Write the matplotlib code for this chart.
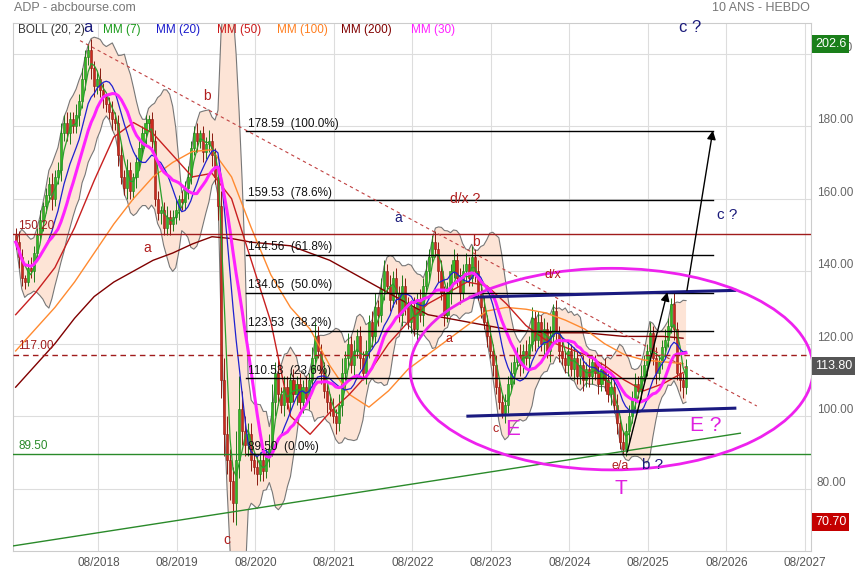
import matplotlib
matplotlib.use("Agg")
import matplotlib.pyplot as plt
import numpy as np
import pandas as pd
from matplotlib.patches import Ellipse
from matplotlib.transforms import blended_transform_factory

plt.rcParams['font.family'] = ['Liberation Sans', 'DejaVu Sans']

# ---------------- data : ADP weekly, one candle every 2 weeks ----------------
first_date = 2017.53          # decimal year of first candle
first_open = 150.0

close_2017 = [148, 144, 138, 137, 141, 140, 145, 150, 154, 158, 161, 164, 160, 166, 168, 178, 181, 178, 182, 180, 183, 187, 193, 199, 201, 196]
close_2018 = [191, 193, 190, 188, 186, 184, 182, 181, 172, 166, 163, 168, 162, 166, 170, 174, 178, 181, 182, 176, 160, 156, 157, 152, 155, 153]
close_2019 = [155, 157, 160, 159, 163, 166, 174, 178, 176, 178, 173, 175, 176, 172, 166, 158, 110, 95, 88, 82, 76, 88, 102, 96, 92, 95]
close_2020 = [88, 86, 84, 88, 85, 89, 91, 104, 112, 106, 103, 108, 104, 110, 106, 109, 104, 108, 105, 110, 116, 122, 118, 112, 107, 104]
close_2021 = [102, 100, 98, 103, 112, 116, 120, 114, 118, 122, 116, 112, 118, 126, 122, 130, 128, 135, 140, 136, 132, 138, 134, 128, 136, 130]
close_2022 = [126, 130, 124, 132, 128, 136, 140, 144, 148, 146, 140, 134, 128, 134, 140, 143, 138, 134, 140, 142, 138, 144, 140, 134, 130, 126]
close_2023 = [122, 118, 114, 108, 104, 101, 103, 109, 112, 115, 117, 114, 118, 116, 120, 127, 121, 126, 120, 124, 118, 122, 129, 123, 118, 116]
close_2024 = [114, 118, 113, 116, 111, 114, 110, 113, 111, 115, 112, 109, 113, 110, 106, 108, 103, 98, 93, 91, 96, 100, 105, 109, 107, 111]
close_2025 = [114, 118, 123, 116, 112, 115, 119, 121, 125, 131, 124, 112, 110, 108, 113.8]

wick_up = [2, 3, 2, 1, 2, 3, 2, 2, 3, 1, 2, 2, 3, 2, 2, 3, 2, 3, 2, 2, 3, 2, 3, 2, 1.6, 3,
           2, 2, 3, 2, 1, 2, 3, 2, 2, 3, 2, 3, 2, 1, 2, 3, 2, 2, 1, 2, 3, 2, 1, 2, 3, 2,
           2, 3, 1, 2, 2, 3, 2, 2, 3, 1, 2, 2, 3, 2, 2, 3, 4, 6, 5, 3, 4, 8, 9, 5, 4, 3,
           3, 2, 3, 2, 3, 2, 4, 5, 3, 4, 2, 3, 3, 2, 3, 2, 3, 2, 3, 2, 3, 4, 3, 2, 3, 2,
           2, 3, 2, 3, 4, 2, 3, 2, 3, 2, 3, 2, 3, 2, 3, 4, 2, 3, 3, 2, 3, 2, 3, 2, 3, 2,
           3, 2, 3, 2, 3, 2, 3, 2, 2, 3, 2, 3, 2, 3, 2, 3, 2, 3, 2, 3, 2, 3, 2, 3, 2, 3,
           2, 3, 2, 3, 2, 2, 3, 2, 3, 2, 2, 3, 2, 3, 2, 3, 2, 3, 2, 3, 2, 3, 2, 3, 2, 3,
           2, 3, 2, 3, 2, 2, 3, 2, 3, 2, 2, 3, 2, 3, 2, 3, 2, 3, 2, 3, 2, 3, 2, 3, 2, 3,
           3, 2, 3, 2, 3, 2, 2, 3, 2, 1.6, 3, 2, 3, 2, 2]
wick_dn = [2, 3, 2, 2, 1, 2, 3, 2, 2, 3, 2, 2, 3, 2, 2, 3, 2, 2, 3, 2, 2, 3, 2, 3, 2, 3,
           3, 2, 2, 3, 2, 2, 3, 2, 3, 2, 2, 3, 2, 2, 3, 2, 2, 3, 2, 3, 2, 2, 3, 2, 2, 3,
           2, 2, 3, 2, 2, 3, 2, 2, 3, 2, 3, 2, 2, 3, 2, 4, 5, 6, 4, 5, 5.3, 6, 5, 4, 3, 3,
           3, 2, 3, 2, 3, 2, 3, 2, 4, 3, 2, 3, 2, 3, 2, 3, 2, 3, 2, 3, 2, 3, 2, 3, 2, 3,
           2, 2, 3, 2, 3, 2, 3, 2, 3, 2, 3, 2, 3, 2, 3, 2, 3, 2, 3, 2, 3, 2, 3, 2, 3, 2,
           2, 3, 2, 3, 2, 3, 2, 3, 2, 2, 3, 2, 3, 2, 3, 2, 2, 3, 2, 3, 2, 2, 3, 2, 3, 2,
           3, 2, 3, 2, 2, 1.5, 3, 2, 2, 3, 2, 3, 2, 2, 3, 2, 3, 2, 2, 3, 2, 3, 2, 2, 3, 2,
           2, 3, 2, 3, 2, 2, 3, 2, 3, 2, 2, 3, 2, 3, 2, 3, 2, 3, 2, 1.5, 2, 3, 2, 3, 2, 3,
           2, 3, 2, 2, 3, 2, 2, 3, 2, 2, 3, 2, 3, 3, 2]

# long moving averages, one point per quarter
ma_start = 2017.53
mm50 = [128, 134, 141, 152, 165, 177, 181, 178, 172, 166, 167, 160, 143, 126, 100, 95, 101, 106,
        112, 120, 126, 131, 134, 137, 136, 131, 125, 121, 119, 117, 114, 110, 107, 109, 112]
mm100 = [118, 124, 130, 137, 145, 153, 160, 166, 170, 173, 173.5, 166, 152, 139, 130, 124, 114, 106,
         102.5, 107, 113, 117, 121, 125, 129, 130, 129.5, 128.5, 126.5, 124, 120, 117, 115.5, 115, 114.5]
mm200 = [108, 114, 120, 127, 133, 137, 140, 143, 145, 147.5, 149.5, 149, 148, 147.5, 147, 145, 143, 140,
         137, 134, 131, 128, 127, 126, 125, 124, 123.5, 123, 123, 123, 122.5, 122, 122, 122, 121.5]

# fibonacci retracement levels
fib_levels = [178.59, 159.53, 144.56, 134.05, 123.53, 110.53, 89.50]
fib_pct = ['100.0%', '78.6%', '61.8%', '50.0%', '38.2%', '23.6%', '0.0%']
fib_span = (2020.466, 2026.415)

# support / resistance
level_150 = 150.20
level_117 = 117.00
level_89 = 89.50
last_price = 113.80
max_price = 202.6
min_price = 70.70

# drawn lines (start date, value) -> (end date, value)
red_trend = [(2018.35, 203.6), (2026.97, 102.8)]
green_trend = [(2017.496, 64.2), (2026.76, 95.3)]
navy_top = [(2023.32, 132.8), (2026.69, 134.7)]
navy_bot = [(2023.29, 100.0), (2026.69, 102.2)]
arrow_1 = [(2025.32, 90.1), (2025.83, 134.2)]
arrow_2 = [(2026.08, 134.7), (2026.41, 178.8)]
ellipse_c = (2025.121, 112.98)
ellipse_wh = (5.134, 55.6)

# wave labels: text, date, value, color, size
wave_labels = [
    ('a', 2018.45, 207.3, '#1a1a7a', 12),
    ('b', 2019.97, 188.2, '#b01e1e', 10),
    ('a', 2019.20, 146.3, '#b01e1e', 10),
    ('c', 2020.22, 65.9, '#b01e1e', 10),
    ('a', 2022.40, 154.8, '#1a1a7a', 10),
    ('d/x ?', 2023.25, 159.8, '#b01e1e', 10),
    ('b', 2023.39, 148.0, '#b01e1e', 10),
    ('d/x', 2024.37, 138.9, '#b01e1e', 9),
    ('a', 2023.05, 121.3, '#b01e1e', 9),
    ('c', 2023.64, 96.4, '#b01e1e', 9),
    ('E', 2023.86, 96.4, '#e020e0', 16),
    ('E ?', 2026.32, 97.5, '#e020e0', 15),
    ('e/a', 2025.23, 86.2, '#b01e1e', 9),
    ('b ?', 2025.64, 86.5, '#1a1a7a', 11),
    ('T', 2025.24, 80.0, '#e020e0', 15),
    ('c ?', 2026.59, 155.4, '#1a1a7a', 11),
    ('c ?', 2026.12, 207.2, '#1a1a7a', 12),
]

legend_items = ['BOLL (20, 2)', 'MM (7)', 'MM (20)', 'MM (50)', 'MM (100)', 'MM (200)', 'MM (30)']
legend_colors = ['#333333', '#1a9a1a', '#1a1acc', '#cc1a1a', '#ff7f20', '#800000', '#ff20ff']

x_tick_labels = ['08/2018', '08/2019', '08/2020', '08/2021', '08/2022',
                 '08/2023', '08/2024', '08/2025', '08/2026', '08/2027']
y_ticks = [80, 100, 120, 140, 160, 180, 200]

# ---------------- prepare series ----------------
closes = np.array(close_2017 + close_2018 + close_2019 + close_2020 + close_2021 +
                  close_2022 + close_2023 + close_2024 + close_2025, dtype=float)
step = 1 / 26
dates = first_date + np.arange(len(closes)) * step
opens = np.r_[first_open, closes[:-1]]
highs = np.maximum(opens, closes) + np.array(wick_up)
lows = np.minimum(opens, closes) - np.array(wick_dn)

s = pd.Series(closes)
mm7 = s.rolling(4, min_periods=1).mean()
mm20 = s.rolling(10, min_periods=1).mean()
mm30 = s.rolling(15, min_periods=1).mean()
sd = s.rolling(10, min_periods=1).std(ddof=0)
boll_up = mm20 + 2 * sd
boll_dn = mm20 - 2 * sd
ma_dates = ma_start + np.arange(len(mm50)) * 0.25

# ---------------- figure ----------------
fig = plt.figure(figsize=(8.6, 5.8), dpi=100)
ax = fig.add_axes([13 / 860, 29 / 580, 798 / 860, 528.5 / 580])
ax.set_xlim(2017.496, 2027.66)
ax.set_ylim(62.8, 208.6)

# bollinger band
ax.fill_between(dates, boll_dn, boll_up, color='#fde4d6', lw=0, zorder=1)
ax.plot(dates, boll_up, color='#777777', lw=0.8, zorder=2)
ax.plot(dates, boll_dn, color='#777777', lw=0.8, zorder=2)

# candles
up = closes >= opens
body_col = np.where(up, '#33bb22', '#cc2a1e')
edge_col = np.where(up, '#1f7a1a', '#8a1a10')
ax.vlines(dates, lows, highs, colors=edge_col, lw=0.7, zorder=3)
ax.bar(dates, closes - opens, bottom=opens, width=step * 0.7, color=body_col,
       edgecolor=edge_col, linewidth=0.4, zorder=3)

# moving averages
ax.plot(ma_dates, mm200, color='#800000', lw=1.0, zorder=4)
ax.plot(ma_dates, mm100, color='#ff8a30', lw=1.0, zorder=4)
ax.plot(ma_dates, mm50, color='#c82020', lw=1.0, zorder=4)
ax.plot(dates, mm7, color='#2aa02a', lw=0.9, zorder=4)
ax.plot(dates, mm20, color='#2020d0', lw=0.9, zorder=4)
ax.plot(dates, mm30, color='#ff22ff', lw=2.2, zorder=4)

# horizontal levels
ax.axhline(level_150, color='#a01c1c', lw=1.0, zorder=5)
ax.axhline(level_117, color='#a01c1c', lw=1.0, ls=(0, (4, 3)), zorder=5)
ax.axhline(level_89, color='#2a8a2a', lw=1.0, zorder=5)
ax.text(2017.56, level_150 + 0.6, '150.20', color='#a01c1c', fontsize=8.5, va='bottom', zorder=6)
ax.text(2017.56, level_117 + 0.6, '117.00', color='#a01c1c', fontsize=8.5, va='bottom', zorder=6)
ax.text(2017.56, level_89 + 0.6, '89.50', color='#2a8a2a', fontsize=8.5, va='bottom', zorder=6)

# fibonacci
for lvl, pct in zip(fib_levels, fib_pct):
    ax.plot(fib_span, [lvl, lvl], color='black', lw=1.0, zorder=5)
    ax.text(fib_span[0] + 0.02, lvl + 0.4, f'{lvl:.2f}  ({pct})', fontsize=8.5,
            color='#111111', va='bottom', zorder=6)

# trend lines
ax.plot(*zip(*red_trend), color='#c04040', lw=0.8, ls=(0, (3, 3)), zorder=5)
ax.plot(*zip(*green_trend), color='#2a8a2a', lw=1.0, zorder=5)
ax.plot(*zip(*navy_top), color='#1a1a80', lw=2.2, zorder=5)
ax.plot(*zip(*navy_bot), color='#1a1a80', lw=2.2, zorder=5)
for a in (arrow_1, arrow_2):
    ax.annotate('', xy=a[1], xytext=a[0], zorder=6,
                arrowprops=dict(arrowstyle='-|>', color='black', lw=1.0,
                                mutation_scale=13, shrinkA=0, shrinkB=0))
ax.add_patch(Ellipse(ellipse_c, *ellipse_wh, fill=False, edgecolor='#ee22ee', lw=2.0, zorder=6))

for txt, tx, ty, col, fs in wave_labels:
    ax.text(tx, ty, txt, color=col, fontsize=fs, ha='center', va='center', zorder=7)

# axes styling
ax.set_xticks(2018.583 + np.arange(len(x_tick_labels)))
ax.set_xticklabels(x_tick_labels, color='#555555', fontsize=8.5)
ax.set_yticks(y_ticks)
ax.set_yticklabels([f'{v:.2f}' for v in y_ticks], color='#666666', fontsize=8.5)
ax.yaxis.tick_right()
plt.setp(ax.get_yticklabels(), va='bottom')
ax.tick_params(length=0, pad=4)
ax.grid(True, color='#dddddd', lw=0.8, zorder=0)
ax.set_axisbelow(True)
for sp in ax.spines.values():
    sp.set_color('#cccccc')

# price boxes on the right
trans = blended_transform_factory(ax.transAxes, ax.transData)
for val, txt, bg in [(max_price, '202.6', '#1a7f1a'), (last_price, '113.80', '#555555'),
                     (min_price, '70.70', '#c40000')]:
    ax.text(1.005, val, txt, transform=trans, color='white', fontsize=9, va='center', ha='left',
            clip_on=False, zorder=8, bbox=dict(boxstyle='square,pad=0.25', fc=bg, ec='none'))

# legend row
leg_x = [18, 103, 156, 217, 277, 341, 411]
for lx, txt, col in zip(leg_x, legend_items, legend_colors):
    fig.text(lx / 860, 1 - 30 / 580, txt, color=col, fontsize=8.5, va='center')

fig.text(14 / 860, 1 - 8 / 580, 'ADP - abcbourse.com', color='#777777', fontsize=9, va='center')
fig.text(810 / 860, 1 - 8 / 580, '10 ANS - HEBDO', color='#777777', fontsize=9, va='center', ha='right')

fig.savefig('out.png', dpi=100)
